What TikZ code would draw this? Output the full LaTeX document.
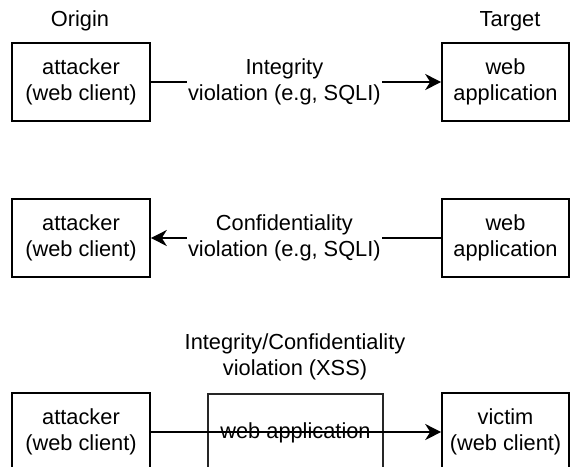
\documentclass[tikz,border=0pt]{standalone}
\usepackage{fontspec}
\setmainfont{Liberation Sans}
\usetikzlibrary{arrows.meta}
\begin{document}
\begin{tikzpicture}[x=1pt,y=-1pt,
  every node/.style={font=\fontsize{21.8}{26}\selectfont, align=center},
  box/.style={draw, line width=1.6pt, minimum width=138pt, minimum height=78pt, inner sep=0pt},
  rbox/.style={box, minimum width=127pt},
  lbl/.style={fill=white, inner sep=1pt},
  link/.style={line width=1.6pt, -{Stealth[length=16pt,width=16pt,inset=5pt]}}]
\useasboundingbox (0,0) rectangle (570,466);
\clip (0,0) rectangle (570,466);
\node (origin) at (80,21) {Origin};
\node (target) at (510,21) {Target};
% integrity
\node[box] (atk1) at (81,82) {attacker\\(web client)};
\node[rbox] (app1) at (505.5,82) {web\\application};
\draw[link] (atk1) -- node[lbl, pos=.46] {Integrity\\violation (e.g, SQLI)} (app1);
% confidentiality
\node[box] (atk2) at (81,238) {attacker\\(web client)};
\node[rbox] (app2) at (505.5,238) {web\\application};
\draw[link] (app2) -- node[lbl, pos=.54] {Confidentiality\\violation (e.g, SQLI)} (atk2);
% xss
\node (xss) at (295,357) {Integrity/Confidentiality\\violation (XSS)};
\node[box] (atk3) at (81,432) {attacker\\(web client)};
\node[box, draw=black!85, line width=1.3pt, minimum width=175pt] (app3) at (295.5,433) {web application};
\node[rbox] (vic) at (505.5,432) {victim\\(web client)};
\draw[link] (atk3) -- (vic);
\end{tikzpicture}
\end{document}
